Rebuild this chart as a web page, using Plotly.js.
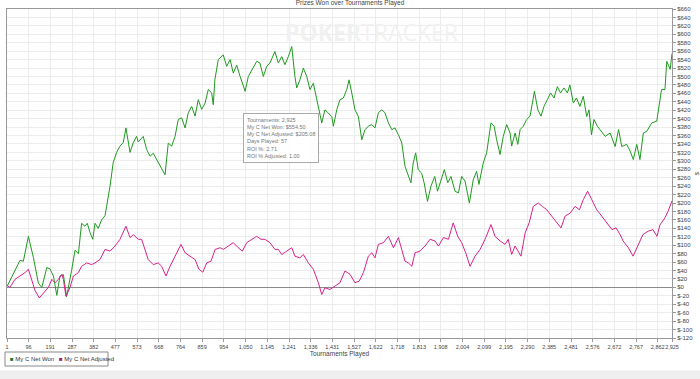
<!DOCTYPE html>
<html>
<head>
<meta charset="utf-8">
<script src="https://cdn.plot.ly/plotly-3.0.1.min.js"></script>
<style>html,body{margin:0;padding:0;background:#fff;}#chart{width:700px;height:379px;}</style>
</head>
<body>
<div id="chart"></div>
<script>
// Tournament numbers and cumulative values
const wonT = [1,29,58,73,95,117,139,154,176,190,205,220,234,249,263,285,300,315,329,344,354,366,378,388,402,417,432,439,454,468,483,498,512,524,542,556,571,578,600,615,630,644,659,674,688,696,710,725,740,754,769,784,798,813,828,842,857,872,886,901,908,915,930,952,967,982,996,1011,1026,1048,1062,1077,1099,1113,1128,1143,1157,1179,1194,1209,1223,1238,1253,1267,1275,1289,1304,1319,1333,1348,1363,1377,1385,1399,1414,1429,1436,1451,1465,1480,1495,1505,1517,1531,1546,1561,1575,1590,1605,1619,1634,1649,1663,1678,1693,1707,1722,1737,1751,1766,1777,1787,1798,1809,1824,1835,1850,1865,1882,1894,1909,1924,1939,1953,1971,1986,2000,2015,2034,2051,2066,2076,2095,2110,2129,2143,2154,2169,2183,2198,2213,2220,2235,2247,2257,2271,2286,2301,2320,2335,2349,2362,2377,2391,2406,2421,2435,2450,2465,2476,2491,2505,2520,2535,2550,2560,2571,2582,2597,2631,2653,2675,2690,2704,2726,2741,2755,2770,2784,2799,2814,2836,2858,2872,2879,2894,2902,2917,2925];
const wonV = [2,33,64,62,121,71,10,0,47,44,27,-19,27,30,-22,40,88,80,152,145,152,130,114,152,140,160,170,192,240,296,320,335,343,378,320,343,358,345,358,327,311,318,303,287,275,267,342,335,358,398,402,378,414,429,406,445,422,437,469,461,433,492,540,551,524,540,508,527,500,465,500,516,536,532,500,524,532,559,532,547,528,547,571,500,473,492,520,500,469,484,445,405,390,421,414,405,382,421,445,449,469,492,461,421,405,350,374,382,386,378,414,421,414,390,374,378,362,342,287,263,248,295,319,279,271,248,204,240,263,228,255,279,248,263,228,224,263,252,200,255,275,244,295,319,390,382,350,315,358,386,366,335,366,339,374,382,398,406,465,421,406,429,445,461,449,476,461,473,461,480,437,449,429,453,405,421,362,398,382,358,366,334,374,334,339,323,303,339,303,366,370,390,394,445,469,469,536,517,554.5];

const adjT = [1,14,36,58,80,95,110,124,143,161,183,198,212,227,242,249,260,278,293,315,329,351,373,388,410,432,454,476,498,524,542,556,578,593,608,622,644,666,681,700,718,732,747,766,784,806,828,845,862,879,898,916,938,952,974,996,1018,1036,1055,1077,1099,1118,1135,1157,1179,1194,1209,1231,1253,1267,1289,1304,1326,1348,1370,1385,1399,1421,1443,1465,1487,1509,1531,1550,1568,1590,1605,1619,1634,1656,1678,1700,1722,1737,1751,1766,1781,1795,1817,1839,1861,1883,1898,1920,1942,1963,1983,2000,2018,2037,2059,2081,2103,2129,2147,2169,2191,2205,2220,2235,2261,2279,2297,2315,2337,2355,2374,2396,2418,2437,2455,2477,2499,2518,2535,2554,2572,2594,2616,2639,2661,2679,2697,2710,2732,2754,2771,2784,2797,2819,2841,2859,2872,2894,2907,2925];
const adjV = [5,0,19,27,35,43,19,-7,-25,-14,0,19,11,19,31,19,-21,0,27,35,50,58,54,58,66,90,86,98,114,145,118,125,114,114,90,66,54,58,50,27,50,66,82,102,82,74,66,43,36,58,62,90,94,90,98,106,94,86,106,114,121,114,114,106,90,90,78,86,94,74,70,78,58,43,11,-17,-1,-5,3,11,39,31,11,15,35,74,82,70,102,106,121,94,118,86,62,58,50,82,86,98,114,110,98,118,114,153,121,106,82,50,74,90,114,149,121,110,102,114,78,98,74,129,153,192,200,192,184,169,153,141,169,176,192,184,208,228,208,184,169,153,137,141,125,110,95,74,95,110,125,133,137,121,148,165,180,205.08];

const seriesNames = ['My C Net Won', 'My C Net Adjusted'];
const seriesColors = ['#1e9a1e', '#d9218a'];
const legendSwatch = ['#1f7a1f', '#a3205f'];
const xTicks = [1,96,191,287,382,477,573,668,764,859,954,1050,1145,1241,1336,1431,1527,1622,1718,1813,1908,2004,2099,2195,2290,2385,2481,2576,2672,2767,2862,2925];
const yTicks = [];
for (let v = -120; v <= 660; v += 20) yTicks.push(v);
const tooltipLines = ['Tournaments: 2,925','My C Net Won: $554.50','My C Net Adjusted: $205.08','Days Played: 57','ROI %: 2.71','ROI % Adjusted: 1.00'];

const fmt = n => n.toLocaleString('en-US');
const FONT = 'Liberation Sans, Arial, sans-serif';

const traces = [
  {x: wonT, y: wonV, name: seriesNames[0], type: 'scatter', mode: 'lines', line: {color: seriesColors[0], width: 1}, showlegend: false, hoverinfo: 'skip'},
  {x: adjT, y: adjV, name: seriesNames[1], type: 'scatter', mode: 'lines', line: {color: seriesColors[1], width: 1}, showlegend: false, hoverinfo: 'skip'}
];

// paper coordinates: plot area spans px 7..672 horizontally, py 9..338 vertically
const PX = px => (px - 7) / 665;
const PY = py => (338 - py) / 329;

const layout = {
  width: 700, height: 379,
  margin: {l: 7, r: 28, t: 9, b: 41},
  paper_bgcolor: '#ffffff', plot_bgcolor: '#ffffff',
  font: {family: FONT, size: 6, color: '#444'},
  title: {text: 'Prizes Won over Tournaments Played', font: {family: FONT, size: 6.5, color: '#444'}, x: 0.5, xanchor: 'center', y: 0.993, yanchor: 'middle'},
  showlegend: false,
  xaxis: {
    range: [1, 2925], tickvals: xTicks, ticktext: xTicks.map(fmt), tickangle: 0,
    showgrid: true, gridcolor: '#ececec', gridwidth: 1,
    zeroline: false, showline: true, linecolor: '#999', mirror: true,
    ticks: 'outside', ticklen: 3, tickcolor: '#999',
    tickfont: {family: FONT, size: 5.5, color: '#444'},
    title: {text: 'Tournaments Played', font: {family: FONT, size: 6.5, color: '#444'}, standoff: 2}
  },
  yaxis: {
    range: [-120, 660], side: 'right', tickvals: yTicks, ticktext: yTicks.map(v => '$' + v),
    showgrid: true, gridcolor: '#ececec', gridwidth: 1,
    zeroline: true, zerolinecolor: '#8a8a8a', zerolinewidth: 1,
    showline: true, linecolor: '#999', mirror: true,
    ticks: 'outside', ticklen: 3, tickcolor: '#999',
    tickfont: {family: FONT, size: 6, color: '#444'},
    title: {text: '$', font: {family: FONT, size: 6, color: '#444'}, standoff: 4}
  },
  shapes: [
    {type: 'rect', xref: 'paper', yref: 'paper', x0: -0.02, x1: 1.05, y0: -0.125, y1: -0.098, fillcolor: '#efefef', line: {width: 0}, layer: 'below'},
    {type: 'rect', xref: 'paper', yref: 'paper', x0: PX(5), x1: PX(108), y0: PY(366), y1: PY(352), fillcolor: '#ffffff', line: {color: '#888', width: 1}}
  ],
  annotations: [
    {xref: 'paper', yref: 'paper', x: 0.548, y: 0.93, xanchor: 'center', yanchor: 'middle', showarrow: false,
     text: '<b>POKER</b>TRACKER', font: {family: 'Open Sans, sans-serif', size: 23, color: '#f1f1f1'}},
    {xref: 'paper', yref: 'paper', x: 0.355, y: 0.685, xanchor: 'left', yanchor: 'top', showarrow: false, align: 'left',
     text: tooltipLines.join('<br>'), font: {family: FONT, size: 5.5, color: '#777'},
     bordercolor: '#aaa', borderwidth: 1, borderpad: 3, bgcolor: 'rgba(255,255,255,0.9)'},
    {xref: 'paper', yref: 'paper', x: PX(8), y: PY(359), xanchor: 'left', yanchor: 'middle', showarrow: false,
     text: '<span style="color:' + legendSwatch[0] + '">■</span> ' + seriesNames[0], font: {family: FONT, size: 6, color: '#333'}},
    {xref: 'paper', yref: 'paper', x: PX(57), y: PY(359), xanchor: 'left', yanchor: 'middle', showarrow: false,
     text: '<span style="color:' + legendSwatch[1] + '">■</span> ' + seriesNames[1], font: {family: FONT, size: 6, color: '#333'}}
  ]
};

Plotly.newPlot('chart', traces, layout, {displayModeBar: false, staticPlot: true});
</script>
</body>
</html>
